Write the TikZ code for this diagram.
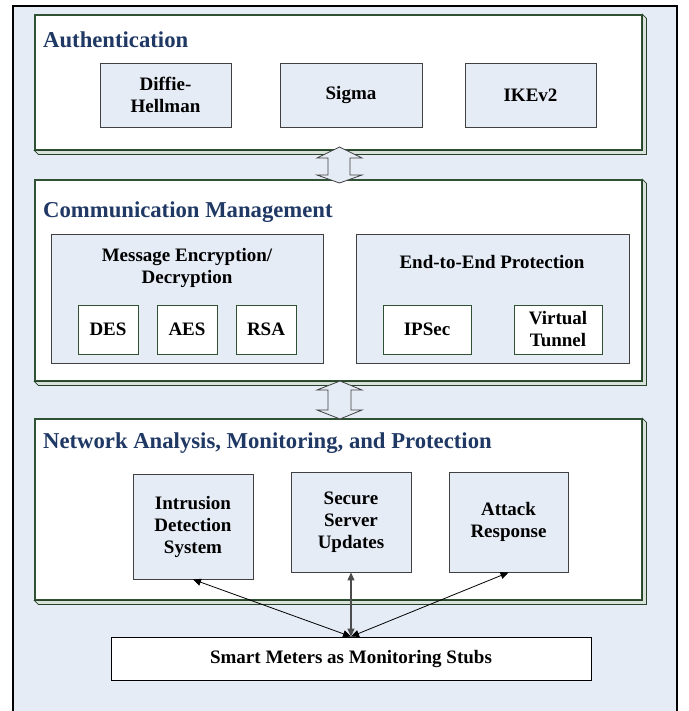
\documentclass[tikz,border=0pt]{standalone}
\usepackage{fontspec}
\setmainfont{Liberation Serif}
\usetikzlibrary{arrows.meta}
\definecolor{bgblue}{HTML}{E6ECF6}
\definecolor{navy}{HTML}{1F3864}
\definecolor{dgreen}{HTML}{2F5233}
\definecolor{bevelc}{HTML}{D9E2DA}
\definecolor{boxedge}{HTML}{404040}
\newcommand\boxfont{\bfseries\fontsize{19}{22}\selectfont}
\newcommand\titlefont{\bfseries\fontsize{22.7}{26}\selectfont}
\begin{document}
\begin{tikzpicture}[x=1pt,y=-1pt,
  panelface/.style={draw=dgreen, line width=1.1pt, fill=white, inner sep=0pt},
  bevelpoly/.style={draw=dgreen!80!black, line width=0.8pt, fill=bevelc},
  bluebox/.style={draw=boxedge, line width=0.9pt, fill=bgblue, font=\boxfont, align=center, inner sep=0pt},
  whitebox/.style={draw=dgreen, line width=0.9pt, fill=white, font=\boxfont, align=center, inner sep=0pt},
  smbox/.style={draw=black, line width=0.9pt, fill=white, font=\boxfont, align=center, inner sep=0pt},
  paneltitle/.style={font=\titlefont, text=navy, anchor=base west, inner sep=0pt},
  subtitle/.style={font=\boxfont, align=center, inner sep=0pt},
  blockarrow/.style={draw=boxedge, line width=0.8pt, fill=bgblue},
  conn/.style={{Triangle[length=8pt,width=7pt]}-{Triangle[length=8pt,width=7pt]}, line width=0.8pt, draw=black}
]
\useasboundingbox (0,0) rectangle (688,711);
% outer frame
\begin{scope}
\clip (0,0) rectangle (688,711);
\draw[line width=2pt, fill=bgblue] (13,6) rectangle (677,725);
\end{scope}

% panels
\node[panelface, minimum width=607pt, minimum height=135pt] (auth) at (338.5,82.5) {};
\node[panelface, minimum width=607pt, minimum height=201pt] (comm) at (338.5,280.5) {};
\node[panelface, minimum width=607pt, minimum height=181pt] (net) at (338.5,509.5) {};
\foreach \p in {auth,comm,net}{
  \draw[bevelpoly] (\p.north east) -- ++(4,4) -- ([shift={(4,4)}]\p.south east) -- ([shift={(4,4)}]\p.south west) -- (\p.south west) -- (\p.south east) -- cycle;
}

% titles
\node[paneltitle] (tauth) at (43,48) {Authentication};
\node[paneltitle] (tcomm) at (43,218) {Communication Management};
\node[paneltitle] (tnet) at (43,448) {Network Analysis, Monitoring, and Protection};

% authentication boxes
\node[bluebox, minimum width=131pt, minimum height=64pt] (dh) at (165.5,95) {Diffie-\\Hellman};
\node[bluebox, minimum width=142pt, minimum height=64pt] (sigma) at (351,95) {Sigma};
\node[bluebox, minimum width=131pt, minimum height=64pt] (ike) at (530.5,95) {IKEv2};

% communication management
\node[bluebox, minimum width=272pt, minimum height=129pt] (enc) at (187,298.5) {};
\node[subtitle] (tenc) at (187,268) {Message Encryption/\\Decryption};
\node[whitebox, minimum width=60pt, minimum height=49pt] (des) at (108,329.5) {DES};
\node[whitebox, minimum width=60pt, minimum height=49pt] (aes) at (187,329.5) {AES};
\node[whitebox, minimum width=60pt, minimum height=49pt] (rsa) at (266,329.5) {RSA};

\node[bluebox, minimum width=273pt, minimum height=129pt] (e2e) at (492.5,298.5) {};
\node[subtitle] (te2e) at (492,262) {End-to-End Protection};
\node[whitebox, minimum width=88pt, minimum height=49pt] (ipsec) at (427,329.5) {IPSec};
\node[whitebox, minimum width=88pt, minimum height=49pt] (vt) at (558,329.5) {Virtual\\Tunnel};

% network analysis
\node[bluebox, minimum width=120pt, minimum height=105pt] (ids) at (193,526.5) {Intrusion\\Detection\\System};
\node[bluebox, minimum width=120pt, minimum height=100pt] (ssu) at (351,522) {Secure\\Server\\Updates};
\node[bluebox, minimum width=119pt, minimum height=100pt] (ar) at (508.5,522) {Attack\\Response};

% smart meters
\node[smbox, minimum width=480pt, minimum height=43pt] (sm) at (351,658.5) {Smart Meters as Monitoring Stubs};

% block double arrows
\draw[blockarrow] (339.5,147) -- (362,158) -- (350,158) -- (350,175) -- (362,175) -- (339.5,183)
  -- (317,175) -- (328,175) -- (328,158) -- (317,158) -- cycle;
\draw[blockarrow] (340,381) -- (362,390) -- (351,390) -- (351,410) -- (362,410) -- (340,419)
  -- (317,410) -- (328,410) -- (328,390) -- (317,390) -- cycle;

% connectors
\draw[conn] (ids.south) -- (sm.north);
\draw[conn, line width=1.2pt, draw=black!70] (ssu.south) -- (sm.north);
\draw[conn] (ar.south) -- (sm.north);
\end{tikzpicture}
\end{document}
